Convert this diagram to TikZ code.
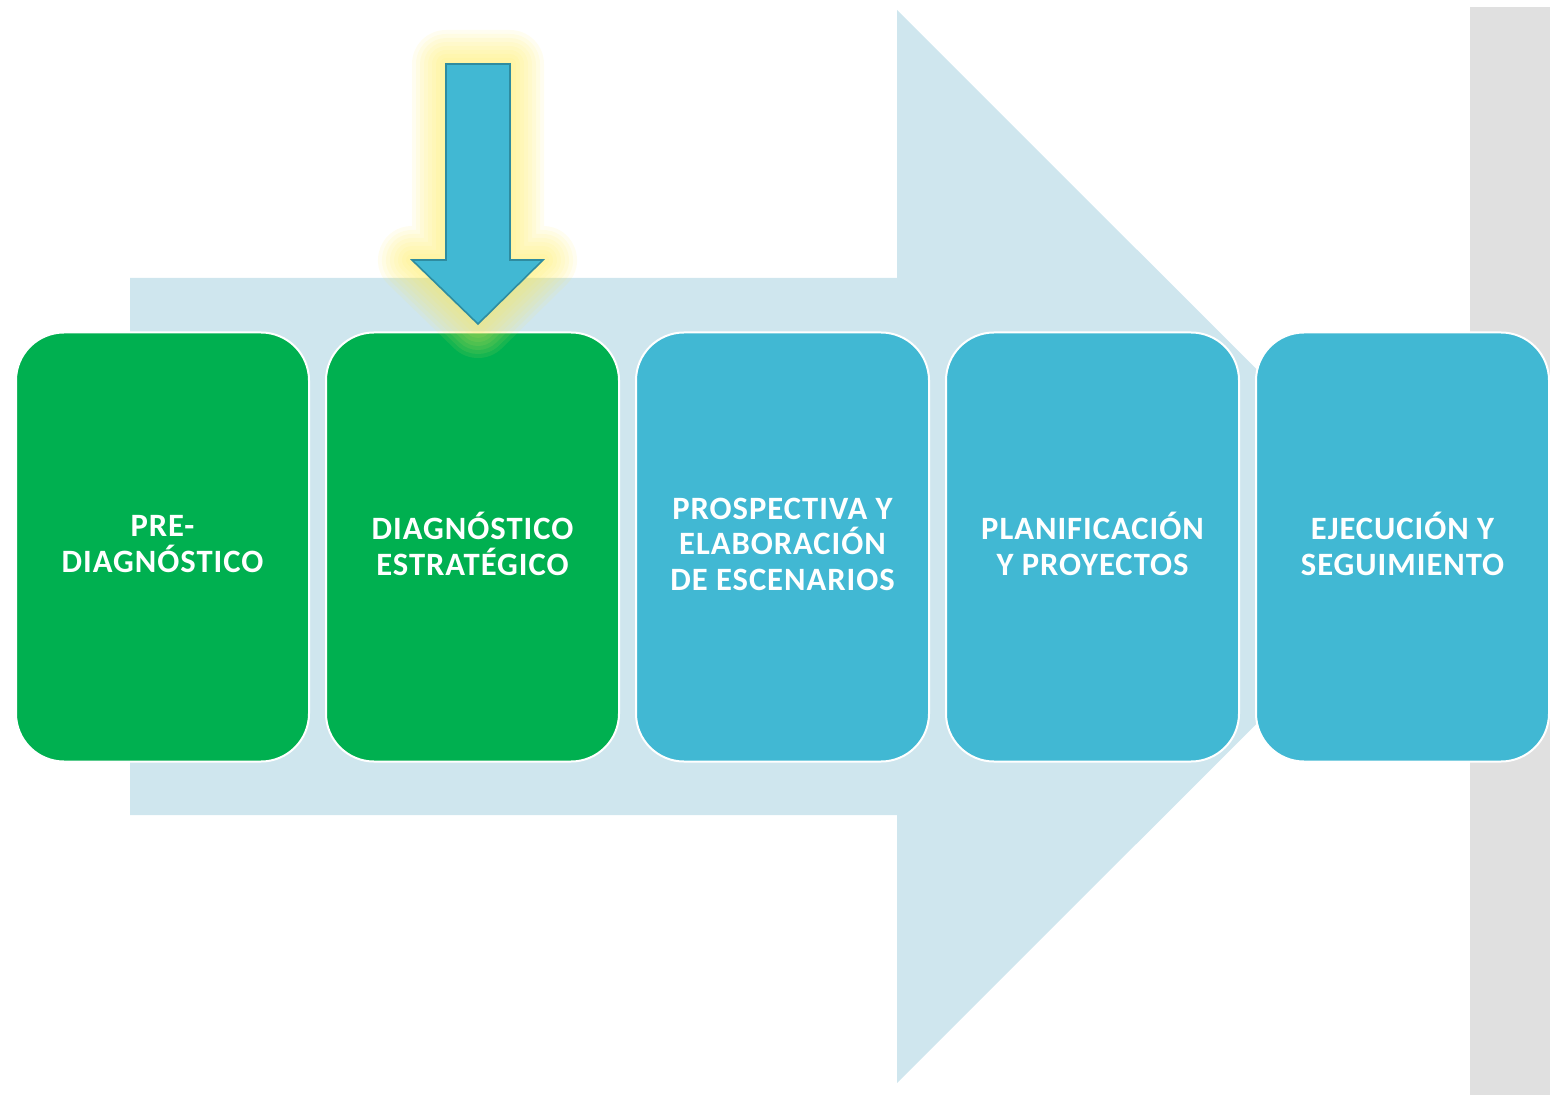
\documentclass[tikz,border=0pt]{standalone}
\usepackage{fontspec}
\setmainfont{Carlito}
\definecolor{flow}{RGB}{207, 230, 238}
\definecolor{done}{RGB}{0, 176, 80}
\definecolor{todo}{RGB}{65, 184, 211}
\definecolor{edge}{RGB}{46, 140, 160}
\definecolor{rail}{RGB}{224, 224, 224}
\definecolor{glow}{RGB}{255, 236, 90}
\usepackage{tikz}

\begin{document}
\begin{tikzpicture}[x=0.5pt, y=-0.5pt,
    stage/.style={rectangle, rounded corners=24pt, draw=white, line width=1pt,
      minimum width=146.5pt, minimum height=214.5pt, text=white, align=center,
      text depth=3pt,
      font=\bfseries\fontsize{16.3}{17.8}\selectfont\addfontfeature{LetterSpace=3}}]
      \useasboundingbox (0,0) rectangle (1550,1095);

      % Background arrow and rail
      \fill[flow] (130,278) -- (897,278) -- (897,10) -- (1434,546.5)
        -- (897,1083) -- (897,815) -- (130,815) -- cycle;
      \fill[rail] (1470,7) rectangle (1550,1095);

      % Stages
      \node[stage, fill=done] (pre) at (162.5,547) {PRE-\\DIAGNÓSTICO};
      \node[stage, fill=done] (diag) at (472.5,547) {DIAGNÓSTICO\\ESTRATÉGICO};
      \node[stage, fill=todo] (prosp) at (782.5,547) {PROSPECTIVA Y\\ELABORACIÓN\\DE ESCENARIOS};
      \node[stage, fill=todo] (plan) at (1092.5,547) {PLANIFICACIÓN\\Y PROYECTOS};
      \node[stage, fill=todo] (ejec) at (1402.5,547) {EJECUCIÓN Y\\SEGUIMIENTO};

      % Marker
      \foreach \w in {34,30,...,2}
        \draw[glow, opacity=0.09, line width=\w pt, line join=round]
          (446,64) -- (510,64) -- (510,260) -- (543,260) -- (478,324)
          -- (412,260) -- (446,260) -- cycle;
      \draw[fill=todo, draw=edge, line width=0.8pt] (446,64) -- (510,64) -- (510,260)
        -- (543,260) -- (478,324) -- (412,260) -- (446,260) -- cycle;
    \end{tikzpicture}
\end{document}
